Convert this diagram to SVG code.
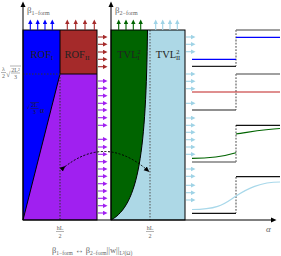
<svg xmlns="http://www.w3.org/2000/svg" width="281" height="256" viewBox="0 0 281 256">
<style>
.t{font-family:"Liberation Serif","DejaVu Serif",serif;fill:#222}
.g{font-family:"Liberation Serif","DejaVu Serif",serif;fill:#666}
.bd{stroke:#000;stroke-width:1;fill:none}
.dot{stroke:#333;stroke-width:1;stroke-dasharray:1.5 1.5;fill:none}
.ub{stroke:#0000ff;stroke-width:1.1;marker-end:url(#hb)}
.ur{stroke:#a52a2a;stroke-width:1.1;marker-end:url(#hr)}
.up{stroke:#a020f0;stroke-width:1.1;marker-end:url(#hp)}
.ug{stroke:#006400;stroke-width:1.1;marker-end:url(#hg)}
.ul{stroke:#9fd3e6;stroke-width:1.1;marker-end:url(#hl)}
.pl{fill:none;stroke-width:1.2}
</style>
<defs>
<marker id="hb" markerUnits="userSpaceOnUse" markerWidth="5" markerHeight="5" refX="1" refY="2.2" orient="auto" viewBox="0 0 5 4.4"><path d="M0,0L4.5,2.2L0,4.4z" fill="#0000ff"/></marker>
<marker id="hr" markerUnits="userSpaceOnUse" markerWidth="5" markerHeight="5" refX="1" refY="2.2" orient="auto" viewBox="0 0 5 4.4"><path d="M0,0L4.5,2.2L0,4.4z" fill="#a52a2a"/></marker>
<marker id="hp" markerUnits="userSpaceOnUse" markerWidth="5" markerHeight="5" refX="1" refY="2.2" orient="auto" viewBox="0 0 5 4.4"><path d="M0,0L4.5,2.2L0,4.4z" fill="#a020f0"/></marker>
<marker id="hg" markerUnits="userSpaceOnUse" markerWidth="5" markerHeight="5" refX="1" refY="2.2" orient="auto" viewBox="0 0 5 4.4"><path d="M0,0L4.5,2.2L0,4.4z" fill="#006400"/></marker>
<marker id="hl" markerUnits="userSpaceOnUse" markerWidth="5" markerHeight="5" refX="1" refY="2.2" orient="auto" viewBox="0 0 5 4.4"><path d="M0,0L4.5,2.2L0,4.4z" fill="#9fd3e6"/></marker>
<marker id="hk" markerUnits="userSpaceOnUse" markerWidth="6" markerHeight="6" refX="1" refY="2.5" orient="auto" viewBox="0 0 6 5"><path d="M0,0L5.5,2.5L0,5z" fill="#000"/></marker>
</defs>

<!-- Left panel -->
<g id="panel1">
<rect x="23" y="30" width="37" height="44" fill="#0000ff"/>
<rect x="60" y="30" width="37" height="44" fill="#a52a2a"/>
<rect x="23" y="74" width="74" height="146" fill="#a020f0"/>
<path d="M23,74 L60,74 L23,220 Z" fill="#0000ff"/>
<path d="M60,74 L23,220" class="bd"/>
<line x1="60" y1="30" x2="60" y2="74" class="bd"/>
<line x1="60" y1="74" x2="97" y2="74" class="bd"/>
<line x1="23" y1="74" x2="60" y2="74" class="dot" stroke="#111"/>
<line x1="60" y1="74" x2="60" y2="220" class="dot" stroke="#4a0070"/>
<rect x="23" y="30" width="74" height="190" class="bd"/>
<text class="t" x="42" y="58" font-size="10.5" text-anchor="middle">ROF<tspan font-size="7" dy="2">I</tspan></text>
<text class="t" x="77" y="58" font-size="10.5" text-anchor="middle">ROF<tspan font-size="7" dy="2">II</tspan></text>
<g class="t" font-size="6">
<text x="26.5" y="109">√</text>
<text x="34.5" y="107" text-anchor="middle">2L</text>
<line x1="30.5" y1="108.5" x2="38.5" y2="108.5" stroke="#222" stroke-width="0.5"/>
<text x="34.5" y="114" text-anchor="middle">3</text>
<line x1="30" y1="102.5" x2="39" y2="102.5" stroke="#222" stroke-width="0.5"/>
<text x="40" y="113" font-size="8">α</text>
</g>
</g>

<!-- Right panel -->
<g id="panel2">
<rect x="111" y="30" width="74" height="190" fill="#add8e6"/>
<path d="M111,30 L147.5,30 C146,150 139,205 111,220 Z" fill="#006400"/>
<path d="M147.5,30 C146,150 139,205 111,220" class="bd" stroke-width="1.2"/>
<line x1="150" y1="30" x2="150" y2="220" stroke="#555" stroke-width="1" stroke-dasharray="1.5 1.5"/>
<rect x="111" y="30" width="74" height="190" class="bd"/>
<text class="t" x="129" y="58" font-size="10.5" text-anchor="middle">TVL<tspan font-size="6.5" dy="-4">2</tspan><tspan font-size="6.5" dx="-3.5" dy="6">I</tspan></text>
<text class="t" x="168" y="58" font-size="10.5" text-anchor="middle">TVL<tspan font-size="6.5" dy="-4">2</tspan><tspan font-size="6.5" dx="-3.5" dy="6">II</tspan></text>
</g>

<!-- Axes -->
<g id="axes">
<line x1="23" y1="220" x2="23" y2="6" stroke="#000" stroke-width="1" marker-end="url(#hk)"/>
<line x1="111" y1="220" x2="111" y2="6" stroke="#000" stroke-width="1" marker-end="url(#hk)"/>
<line x1="23" y1="220" x2="272" y2="220" stroke="#000" stroke-width="1" marker-end="url(#hk)"/>
<text class="g" x="27" y="13" font-size="9">β<tspan font-size="6" dy="2">1−form</tspan></text>
<text class="g" x="115" y="13" font-size="9">β<tspan font-size="6" dy="2">2−form</tspan></text>
<text class="g" x="266" y="232" font-size="9" font-style="italic">α</text>
<g class="g" font-size="6">
<text x="3.5" y="71" text-anchor="middle">λ</text>
<line x1="1" y1="72.5" x2="6" y2="72.5" stroke="#666" stroke-width="0.5"/>
<text x="3.5" y="78" text-anchor="middle">2</text>
<text x="6" y="77" font-size="8">√</text>
<line x1="10" y1="66" x2="21" y2="66" stroke="#666" stroke-width="0.5"/>
<text x="15.5" y="71.5" text-anchor="middle">2L²</text>
<line x1="11" y1="73" x2="20" y2="73" stroke="#666" stroke-width="0.5"/>
<text x="15.5" y="79" text-anchor="middle">3</text>
<text x="60" y="230" text-anchor="middle">hL</text>
<line x1="56" y1="231.5" x2="64" y2="231.5" stroke="#666" stroke-width="0.5"/>
<text x="60" y="237.5" text-anchor="middle">2</text>
<text x="150" y="230" text-anchor="middle">hL</text>
<line x1="146" y1="231.5" x2="154" y2="231.5" stroke="#666" stroke-width="0.5"/>
<text x="150" y="237.5" text-anchor="middle">2</text>
</g>
<text class="g" x="52" y="253" font-size="8.5">β<tspan font-size="5.5" dy="1.5">1−form</tspan><tspan dy="-1.5"> ↔ β</tspan><tspan font-size="5.5" dy="1.5">2−form</tspan><tspan dy="-1.5">||w||</tspan><tspan font-size="5.5" dy="1.5">L²(Ω)</tspan></text>
</g>

<!-- Connectors -->
<g id="connectors">
<path d="M30.3,30V23" class="ub"/><path d="M37.7,30V23" class="ub"/><path d="M45,30V23" class="ub"/><path d="M52.3,30V23" class="ub"/>
<path d="M67.3,30V23" class="ur"/><path d="M75.7,30V23" class="ur"/><path d="M85,30V23" class="ur"/><path d="M94.3,30V23" class="ur"/>
<path d="M118.7,30V23" class="ug"/><path d="M126,30V23" class="ug"/><path d="M133.3,30V23" class="ug"/><path d="M140.7,30V23" class="ug"/>
<path d="M155.7,30V23" class="ul"/><path d="M162.7,30V23" class="ul"/><path d="M170,30V23" class="ul"/><path d="M177.3,30V23" class="ul"/>
<path d="M98,37H104" class="ur"/><path d="M98,44.3H104" class="ur"/><path d="M98,52H104" class="ur"/><path d="M98,59.3H104" class="ur"/><path d="M98,66.7H104" class="ur"/>
<path d="M98,81H104" class="up"/><path d="M98,88.3H104" class="up"/><path d="M98,95.7H104" class="up"/><path d="M98,103.3H104" class="up"/><path d="M98,110H104" class="up"/><path d="M98,117.7H104" class="up"/><path d="M98,125.3H104" class="up"/>
<path d="M98,139.3H104" class="up"/><path d="M98,147H104" class="up"/><path d="M98,154.3H104" class="up"/><path d="M98,161.7H104" class="up"/><path d="M98,169H104" class="up"/><path d="M98,176.3H104" class="up"/><path d="M98,183.7H104" class="up"/><path d="M98,191H104" class="up"/><path d="M98,198.3H104" class="up"/><path d="M98,205.7H104" class="up"/><path d="M98,213H104" class="up"/>
<path d="M186,37H192" class="ul"/><path d="M186,44.3H192" class="ul"/><path d="M186,51.7H192" class="ul"/><path d="M186,74H192" class="ul"/><path d="M186,81.3H192" class="ul"/><path d="M186,88.7H192" class="ul"/><path d="M186,103.3H192" class="ul"/><path d="M186,118H192" class="ul"/><path d="M186,125.3H192" class="ul"/><path d="M186,132.3H192" class="ul"/><path d="M186,139.7H192" class="ul"/><path d="M186,147H192" class="ul"/><path d="M186,154.3H192" class="ul"/><path d="M186,169H192" class="ul"/><path d="M186,176.3H192" class="ul"/><path d="M186,185.3H192" class="ul"/><path d="M186,192.7H192" class="ul"/><path d="M186,200H192" class="ul"/>
<path d="M62,169 Q104,134 146,169" fill="none" stroke="#000" stroke-width="1" stroke-dasharray="2 1.6" marker-start="url(#hk)" marker-end="url(#hk)"/>
</g>

<!-- Step plots -->
<g id="plots">
<g stroke="#666" stroke-width="1.2" stroke-dasharray="1.8 1.4">
<line x1="236" y1="30" x2="236" y2="66"/>
<line x1="236" y1="74" x2="236" y2="110"/>
<line x1="236" y1="125" x2="236" y2="162"/>
<line x1="236" y1="177" x2="236" y2="213"/>
</g>
<line x1="236" y1="30" x2="280" y2="30" stroke="#808080" stroke-width="1.6"/>
<line x1="236" y1="37.3" x2="280" y2="37.3" stroke="#0000ff" stroke-width="1.2"/>
<line x1="192" y1="59.3" x2="236" y2="59.3" stroke="#0000ff" stroke-width="1.2"/>
<line x1="192" y1="66.3" x2="236" y2="66.3" stroke="#222" stroke-width="1.2"/>
<line x1="236" y1="74" x2="280" y2="74" stroke="#808080" stroke-width="1.6"/>
<line x1="192" y1="92" x2="280" y2="92" stroke="#c02020" stroke-width="1.2"/>
<line x1="192" y1="110" x2="236" y2="110" stroke="#222" stroke-width="1.2"/>
<line x1="236" y1="125.3" x2="280" y2="125.3" stroke="#111" stroke-width="1.2"/>
<path d="M192,158.3 C210,158.3 225,156 236,152.7" class="pl" stroke="#006400"/>
<path d="M236,134 C250,132 265,129 280,128.5" class="pl" stroke="#006400"/>
<line x1="192" y1="162" x2="236" y2="162" stroke="#808080" stroke-width="1.6"/>
<line x1="236" y1="176.7" x2="280" y2="176.7" stroke="#111" stroke-width="1.2"/>
<path d="M192,209.5 C220,209.5 225,203 236,196 S260,182 280,182" class="pl" stroke="#a8d8ea"/>
<line x1="192" y1="213.3" x2="236" y2="213.3" stroke="#111" stroke-width="1.2"/>
</g>
</svg>
